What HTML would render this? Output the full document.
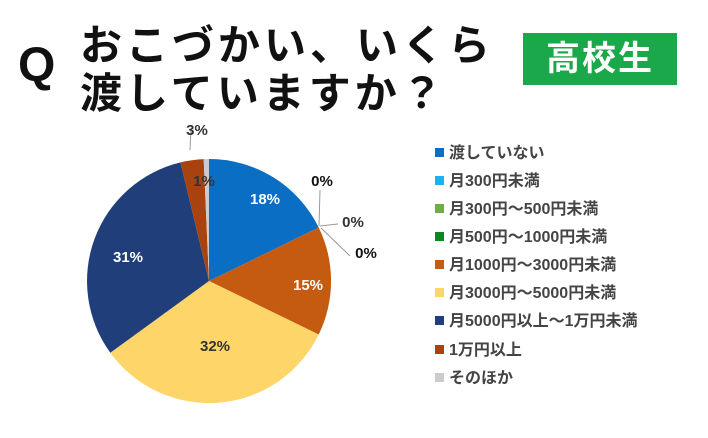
<!DOCTYPE html>
<html><head><meta charset="utf-8"><style>
body{margin:0;width:708px;height:438px;background:#fff;overflow:hidden;position:relative;font-family:"Liberation Sans","Noto Sans CJK JP",sans-serif}
.q{position:absolute;left:18px;top:38px;font-size:48px;font-weight:bold;color:#111}
.t{position:absolute;left:80px;font-size:42px;font-weight:bold;color:#111;letter-spacing:4px;white-space:nowrap}
.box{position:absolute;left:523px;top:33px;width:154px;height:52px;background:#1aa84a;color:#fff;font-size:34px;font-weight:bold;text-align:center;line-height:52px;letter-spacing:2px}
.lg{position:absolute;left:435px;font-size:16px;font-weight:bold;color:#444;white-space:nowrap;line-height:16px}
.lg i{display:inline-block;width:9px;height:9px;margin-right:5px;vertical-align:1px}
</style></head><body>
<div class="q">Q</div>
<div class="t" style="top:12px">おこづかい、いくら</div>
<div class="t" style="top:60px">渡していますか？</div>
<div class="box">高校生</div>
<svg width="708" height="438" style="position:absolute;left:0;top:0">
<path d="M209,281 L209,159 A122,122 0 0 1 318.7,227.5Z" fill="#0a6ec4"/>
<path d="M209,281 L318.7,227.5 A122,122 0 0 1 318.7,334.5Z" fill="#c55a11"/>
<path d="M209,281 L318.7,334.5 A122,122 0 0 1 110.3,352.7Z" fill="#fdd568"/>
<path d="M209,281 L110.3,352.7 A122,122 0 0 1 180.5,162.4Z" fill="#203f7a"/>
<path d="M209,281 L180.5,162.4 A122,122 0 0 1 203.7,159.1Z" fill="#a8430f"/>
<path d="M209,281 L203.7,159.1 A122,122 0 0 1 209,159Z" fill="#cccccc"/>
<g stroke="#999" stroke-width="1" fill="none">
<polyline points="190,150 191,128"/>
<polyline points="319,226 320,190"/>
<polyline points="320,226 338,224"/>
<polyline points="321,228 350,256"/>
</g>
<g font-family="Liberation Sans,sans-serif" font-weight="bold" font-size="15" text-anchor="middle">
<text x="265" y="204" fill="#fff">18%</text>
<text x="308" y="290" fill="#fff">15%</text>
<text x="215" y="351" fill="#333">32%</text>
<text x="128" y="262" fill="#fff">31%</text>
<text x="204" y="186" fill="#333">1%</text>
<text x="197" y="135" fill="#333">3%</text>
<text x="322" y="186" fill="#111">0%</text>
<text x="353" y="227" fill="#333">0%</text>
<text x="366" y="258" fill="#111">0%</text>
</g>
</svg>
<div class="lg" style="top:146px"><i style="background:#0a6ec4"></i>渡していない</div>
<div class="lg" style="top:174px"><i style="background:#1eb0f0"></i>月300円未満</div>
<div class="lg" style="top:202px"><i style="background:#70ad47"></i>月300円～500円未満</div>
<div class="lg" style="top:230px"><i style="background:#0a8a1a"></i>月500円～1000円未満</div>
<div class="lg" style="top:258px"><i style="background:#c55a11"></i>月1000円～3000円未満</div>
<div class="lg" style="top:286px"><i style="background:#fdd568"></i>月3000円～5000円未満</div>
<div class="lg" style="top:314px"><i style="background:#203f7a"></i>月5000円以上～1万円未満</div>
<div class="lg" style="top:343px"><i style="background:#a8430f"></i>1万円以上</div>
<div class="lg" style="top:371px"><i style="background:#cccccc"></i>そのほか</div>
</body></html>
